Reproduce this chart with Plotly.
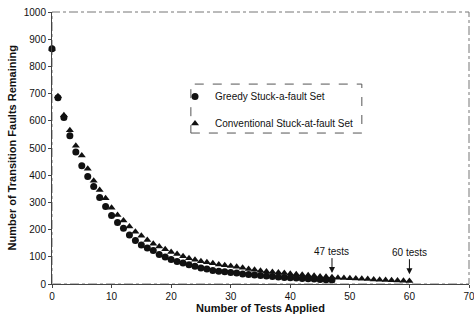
import plotly.graph_objects as go

tests_greedy = list(range(0, 48))
greedy = [865, 685, 612, 545, 485, 435, 395, 358, 318, 285,
          252, 226, 205, 180, 160, 143, 132, 123, 108, 99,
          90, 83, 77, 71, 65, 59, 55, 50, 47, 45,
          42, 40, 37, 35, 33, 31, 29, 28, 26, 24,
          23, 22, 20, 19, 18, 17, 16, 15]

tests_conv = list(range(0, 61))
conventional = [865, 690, 620, 565, 508, 472, 424, 380, 346, 315,
                280, 254, 233, 211, 192, 177, 162, 148, 138, 128,
                118, 110, 102, 95, 89, 84, 80, 76, 72, 69,
                66, 63, 60, 55, 52, 49, 46, 44, 42, 40,
                38, 36, 34, 32, 30, 28, 27, 25, 23, 22,
                21, 20, 19, 18, 17, 16, 15, 14, 13, 12, 11]

x_ticks = [0, 10, 20, 30, 40, 50, 60, 70]
y_ticks = [0, 100, 200, 300, 400, 500, 600, 700, 800, 900, 1000]

FONT = "Liberation Sans, Arial, sans-serif"

fig = go.Figure()
fig.add_trace(go.Scatter(
    x=tests_conv, y=conventional, mode="markers",
    name="Conventional Stuck-at-fault Set",
    marker=dict(symbol="triangle-up", size=7, color="#111"),
    cliponaxis=False, legendgroup="b", legendrank=2,
))
fig.add_trace(go.Scatter(
    x=tests_greedy, y=greedy, mode="markers",
    name="Greedy Stuck-a-fault Set",
    marker=dict(symbol="circle", size=7, color="#111"),
    cliponaxis=False, legendgroup="a", legendrank=1,
))

# plot-area frame (dash-dot, grey)
fig.add_shape(type="rect", xref="paper", yref="paper", x0=0, y0=0, x1=1, y1=1,
              line=dict(color="#777", width=1, dash="dashdot"), layer="below")
# legend frame
fig.add_shape(type="rect", xref="paper", yref="paper", x0=0.333, y0=0.555, x1=0.743, y1=0.735,
              line=dict(color="#555", width=1, dash="dash"))

fig.add_annotation(x=47, y=40, text="47 tests", showarrow=True, ax=0, ay=-22,
                   arrowhead=2, arrowsize=1.2, arrowwidth=1, arrowcolor="#111",
                   font=dict(family=FONT, size=10, color="#111"))
fig.add_annotation(x=60, y=36, text="60 tests", showarrow=True, ax=0, ay=-22,
                   arrowhead=2, arrowsize=1.2, arrowwidth=1, arrowcolor="#111",
                   font=dict(family=FONT, size=10, color="#111"))

# axis titles
fig.add_annotation(xref="paper", yref="paper", x=0.5, y=-0.088, yanchor="middle",
                   text="<b>Number of Tests Applied</b>", showarrow=False,
                   font=dict(family=FONT, size=11, color="#111"))
fig.add_annotation(xref="paper", yref="paper", x=-0.095, y=0.5, xanchor="center",
                   text="<b>Number of Transition Faults Remaining</b>", showarrow=False,
                   textangle=-90, font=dict(family=FONT, size=11, color="#111"))

fig.update_layout(
    width=474, height=322,
    margin=dict(l=52, r=5, t=12, b=38, autoexpand=False),
    paper_bgcolor="white", plot_bgcolor="white",
    font=dict(family=FONT, size=10, color="#111"),
    showlegend=True,
    legend=dict(x=0.295, y=0.743, xanchor="left", yanchor="top",
                bgcolor="rgba(0,0,0,0)", borderwidth=0,
                font=dict(family=FONT, size=10, color="#111"),
                traceorder="grouped", tracegroupgap=8, itemwidth=30),
    xaxis=dict(range=[0, 70], tickvals=x_ticks, ticks="outside", ticklen=3,
               showline=True, linecolor="#444", linewidth=1, showgrid=False, zeroline=False,
               automargin=False, ticklabeloverflow="allow",
               tickfont=dict(family=FONT, size=10, color="#111")),
    yaxis=dict(range=[0, 1000], tickvals=y_ticks, ticks="outside", ticklen=3,
               showline=True, linecolor="#444", linewidth=1, showgrid=False, zeroline=False,
               automargin=False, ticklabeloverflow="allow",
               tickfont=dict(family=FONT, size=10, color="#111")),
)

# remove the browser's default 8px page margin so the figure fills the window
fig.write_html("out.html", config={"displayModeBar": False},
               post_script="document.body.style.margin='0';")
